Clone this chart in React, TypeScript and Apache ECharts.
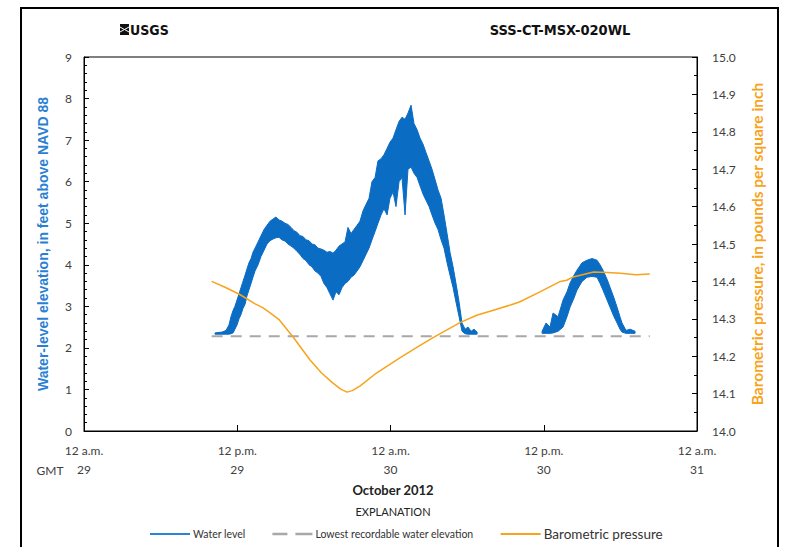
import React, { useEffect, useRef } from "react";
import * as echarts from "echarts";

// Hours since 12 a.m. GMT, 29 October 2012
const xTickTop = ["12 a.m.", "12 p.m.", "12 a.m.", "12 p.m.", "12 a.m."];
const xTickDay = ["29", "29", "30", "30", "31"];

// Water level (noisy band), segment 1: time (h), lower envelope, upper envelope (ft)
const wlTime1 = [10.26, 10.49, 10.81, 11.12, 11.35, 11.51, 11.67, 11.82, 11.98, 12.14, 12.29, 12.45, 12.61, 12.76, 12.92, 13.08, 13.23, 13.39, 13.63, 13.86, 14.1, 14.33, 14.57, 14.8, 15.03, 15.27, 15.5, 15.74, 15.97, 16.21, 16.44, 16.68, 16.91, 17.15, 17.38, 17.62, 17.85, 18.09, 18.32, 18.56, 18.79, 19.03, 19.26, 19.5, 19.73, 19.97, 20.2, 20.44, 20.67, 20.91, 21.14, 21.38, 21.61, 21.85, 22.08, 22.32, 22.55, 22.79, 23.02, 23.26, 23.49, 23.73, 23.96, 24.2, 24.43, 24.67, 24.9, 25.14, 25.37, 25.61, 25.84, 26.08, 26.31, 26.55, 26.78, 27.02, 27.25, 27.49, 27.72, 27.96, 28.19, 28.43, 28.66, 28.9, 29.13, 29.37, 29.6, 29.84, 30.07, 30.31, 30.54, 30.78];
const wlLow1 = [2.33, 2.33, 2.33, 2.33, 2.33, 2.34, 2.36, 2.45, 2.55, 2.7, 2.8, 2.95, 3.05, 3.25, 3.4, 3.55, 3.7, 3.85, 4.0, 4.2, 4.35, 4.5, 4.58, 4.62, 4.65, 4.66, 4.6, 4.57, 4.5, 4.45, 4.4, 4.32, 4.25, 4.15, 4.1, 4.0, 3.95, 3.85, 3.8, 3.72, 3.55, 3.45, 3.3, 3.15, 3.35, 3.28, 3.45, 3.55, 3.6, 3.7, 3.75, 3.85, 3.95, 4.1, 4.25, 4.4, 4.6, 4.8, 5.0, 5.2, 5.35, 5.2, 5.6, 5.75, 5.4, 6.0, 6.1, 5.2, 6.3, 6.35, 6.2, 6.1, 5.9, 5.7, 5.55, 5.4, 5.2, 5.0, 4.85, 4.6, 4.4, 4.05, 3.75, 3.45, 3.1, 2.75, 2.4, 2.34, 2.33, 2.33, 2.33, 2.33];
const wlHigh1 = [2.36, 2.37, 2.38, 2.42, 2.55, 2.75, 2.9, 3.0, 3.15, 3.3, 3.45, 3.6, 3.75, 3.9, 4.05, 4.15, 4.3, 4.4, 4.55, 4.7, 4.85, 4.95, 5.05, 5.1, 5.15, 5.08, 5.05, 5.0, 4.97, 4.9, 4.82, 4.78, 4.7, 4.68, 4.6, 4.58, 4.5, 4.48, 4.4, 4.38, 4.35, 4.3, 4.32, 4.28, 4.35, 4.45, 4.5, 4.55, 4.9, 4.75, 4.85, 4.95, 5.05, 5.3, 5.45, 5.6, 6.0, 6.1, 6.5, 6.55, 6.65, 6.8, 6.95, 7.05, 7.25, 7.45, 7.55, 7.5, 7.65, 7.84, 7.4, 7.25, 7.05, 6.9, 6.7, 6.5, 6.3, 6.05, 5.8, 5.6, 5.2, 4.75, 4.3, 3.95, 3.55, 3.1, 2.6, 2.45, 2.5, 2.4, 2.45, 2.38];

// Water level segment 2
const wlTime2 = [35.87, 36.18, 36.49, 36.73, 37.12, 37.51, 37.82, 38.06, 38.37, 38.6, 39.0, 39.39, 39.78, 40.17, 40.41, 40.64, 40.96, 41.19, 41.5, 41.74, 41.97, 42.13, 42.44, 42.76, 43.15];
const wlLow2 = [2.35, 2.35, 2.35, 2.36, 2.4, 2.5, 2.75, 2.98, 3.2, 3.39, 3.6, 3.7, 3.72, 3.7, 3.55, 3.39, 3.15, 2.98, 2.75, 2.6, 2.45, 2.38, 2.35, 2.35, 2.35];
const wlHigh2 = [2.4, 2.6, 2.5, 2.84, 2.75, 3.15, 3.35, 3.56, 3.75, 3.87, 4.05, 4.11, 4.15, 4.11, 4.0, 3.87, 3.65, 3.46, 3.2, 2.98, 2.75, 2.6, 2.42, 2.45, 2.4];

// Lowest recordable water elevation (ft)
const floorTime = [10.0, 44.3];
const floorValue = [2.28, 2.28];

// Barometric pressure (psi)
const pTime = [10.0, 11.0, 12.2, 13.4, 14.0, 14.6, 15.3, 16.4, 17.7, 18.6, 19.5, 20.1, 20.6, 21.0, 21.6, 22.9, 24.7, 26.0, 27.3, 29.4, 30.8, 31.8, 33.4, 34.1, 35.7, 37.3, 37.8, 38.3, 39.9, 41.0, 42.0, 43.2, 44.3];
const pValue = [14.4, 14.385, 14.365, 14.34, 14.33, 14.315, 14.297, 14.25, 14.19, 14.155, 14.128, 14.112, 14.104, 14.108, 14.12, 14.155, 14.195, 14.222, 14.249, 14.289, 14.31, 14.32, 14.337, 14.345, 14.372, 14.4, 14.403, 14.412, 14.425, 14.424, 14.422, 14.418, 14.42];

const BLUE = "#0b6cc4";
const ORANGE = "#f7a31c";
const GRAY = "#a8a8a8";
const FONT = "Lato, 'Open Sans', sans-serif";
const NARROW = "'Liberation Sans Narrow', 'DejaVu Sans Condensed', 'Liberation Sans', sans-serif";

const zip = (a: number[], b: number[]) => a.map((t, i) => [t, b[i]]);
const zip3 = (a: number[], b: number[], c: number[]) => a.map((t, i) => [t, b[i], c[i]]);

const bandSeries = (time: number[], low: number[], high: number[]) => ({
  name: "Water level",
  type: "custom",
  color: BLUE,
  data: zip3(time, low, high),
  encode: { x: 0, y: [1, 2] },
  clip: true,
  z: 2,
  renderItem: (params: any, api: any) => {
    if (params.dataIndex !== 0) return null;
    const upper = time.map((t, i) => api.coord([t, high[i]]));
    const lower = time.map((t, i) => api.coord([t, low[i]])).reverse();
    return {
      type: "polygon",
      shape: { points: upper.concat(lower) },
      style: { fill: BLUE, stroke: BLUE, lineWidth: 1 },
    };
  },
});

export default function App() {
  const ref = useRef<HTMLDivElement>(null);
  useEffect(() => {
    if (!ref.current) return;
    const chart = echarts.init(ref.current, undefined, { renderer: "svg" });
    const yCommon = {
      type: "value",
      axisLine: { show: true, lineStyle: { color: "#000", width: 1 } },
      axisTick: { show: true, inside: true, length: 5, lineStyle: { color: "#000" } },
      minorTick: { show: true, inside: true, length: 3, lineStyle: { color: "#000" } },
      splitLine: { show: false },
    };
    const option: any = {
      animation: false,
      backgroundColor: "#fff",
      grid: { left: 84, right: 92, top: 57, bottom: 116, show: true, borderColor: "#000", borderWidth: 1, backgroundColor: "transparent" },
      xAxis: {
        type: "value",
        min: 0,
        max: 48,
        interval: 12,
        axisLine: { show: true, lineStyle: { color: "#000", width: 1 } },
        axisTick: { show: true, inside: true, length: 6, lineStyle: { color: "#000" } },
        splitLine: { show: false },
        axisLabel: {
          formatter: (v: number) => {
            const i = Math.round(v / 12);
            return xTickTop[i] + "\n" + xTickDay[i];
          },
          color: "#404040",
          fontFamily: FONT,
          fontSize: 12,
          lineHeight: 19,
          margin: 10,
        },
      },
      yAxis: [
        {
          ...yCommon,
          min: 0,
          max: 9,
          interval: 1,
          position: "left",
          minorTick: { ...yCommon.minorTick, splitNumber: 5 },
          axisLabel: { color: "#404040", fontFamily: FONT, fontSize: 12, margin: 12 },
          name: "Water-level elevation, in feet above NAVD 88",
          nameLocation: "middle",
          nameGap: 34,
          nameRotate: 90,
          nameTextStyle: { color: "#2b7fd2", fontWeight: "bold", fontSize: 14, fontFamily: "'Liberation Sans', Arial, sans-serif" },
        },
        {
          ...yCommon,
          min: 14,
          max: 15,
          interval: 0.1,
          position: "right",
          minorTick: { ...yCommon.minorTick, splitNumber: 2 },
          axisLabel: { color: "#404040", fontFamily: FONT, fontSize: 12, margin: 15, formatter: (v: number) => v.toFixed(1) },
          name: "Barometric pressure, in pounds per square inch",
          nameLocation: "middle",
          nameGap: 52,
          nameRotate: 90,
          nameTextStyle: { color: ORANGE, fontWeight: "bold", fontSize: 15.5, fontFamily: FONT },
        },
      ],
      legend: {
        left: 145,
        top: 522,
        itemWidth: 40,
        itemHeight: 10,
        itemGap: 27,
        textStyle: { color: "#333", fontFamily: FONT, fontSize: 10.5, padding: [0, 0, 0, -2] },
        data: [
          { name: "Water level", icon: "path://M0,0L40,0L40,2L0,2Z", itemStyle: { color: "#2a84d8" } },
          { name: "Lowest recordable water elevation", icon: "path://M0,0L15,0L15,2.5L0,2.5ZM23,0L40,0L40,2.5L23,2.5Z", itemStyle: { color: GRAY } },
          { name: "Barometric pressure", icon: "path://M0,0L40,0L40,2L0,2Z", itemStyle: { color: ORANGE }, textStyle: { fontSize: 13.5 } },
        ],
        selectedMode: false,
      },
      series: [
        bandSeries(wlTime1, wlLow1, wlHigh1),
        bandSeries(wlTime2, wlLow2, wlHigh2),
        {
          name: "Lowest recordable water elevation",
          type: "line",
          data: zip(floorTime, floorValue),
          symbol: "none",
          color: GRAY,
          lineStyle: { color: GRAY, width: 2, type: [11, 8] },
          z: 1,
        },
        {
          name: "Barometric pressure",
          type: "line",
          yAxisIndex: 1,
          data: zip(pTime, pValue),
          symbol: "none",
          color: ORANGE,
          lineStyle: { color: ORANGE, width: 1.5 },
          z: 3,
        },
      ],
      graphic: [
        { type: "rect", shape: { x: 21, y: 8, width: 757, height: 560 }, style: { fill: "none", stroke: "#000", lineWidth: 2 }, silent: true },
        { type: "rect", shape: { x: 120, y: 24, width: 9, height: 11 }, style: { fill: "#111" } },
        { type: "polyline", shape: { points: [[120, 27], [124.5, 29.5], [129, 27]] }, style: { stroke: "#fff", lineWidth: 1, fill: "none" } },
        { type: "polyline", shape: { points: [[120, 32], [124.5, 29.5], [129, 32]] }, style: { stroke: "#fff", lineWidth: 1, fill: "none" } },
        { type: "text", x: 130, y: 30, style: { text: "USGS", fill: "#111", font: "bold 14px " + NARROW, verticalAlign: "middle" } },
        { type: "text", x: 560, y: 30, style: { text: "SSS-CT-MSX-020WL", fill: "#111", font: "bold 14.5px " + NARROW, align: "center", verticalAlign: "middle" } },
        { type: "text", x: 50, y: 470, style: { text: "GMT", fill: "#404040", font: "12px " + FONT, align: "center", verticalAlign: "middle" } },
        { type: "text", x: 393, y: 490, style: { text: "October 2012", fill: "#222", font: "bold 13px " + FONT, align: "center", verticalAlign: "middle" } },
        { type: "text", x: 393, y: 511, style: { text: "EXPLANATION", fill: "#222", font: "11px " + FONT, align: "center", verticalAlign: "middle" } },
      ],
    };
    chart.setOption(option);
    return () => chart.dispose();
  }, []);
  return <div ref={ref} style={{ width: 789, height: 547, position: "absolute", left: 0, top: 0 }} />;
}
